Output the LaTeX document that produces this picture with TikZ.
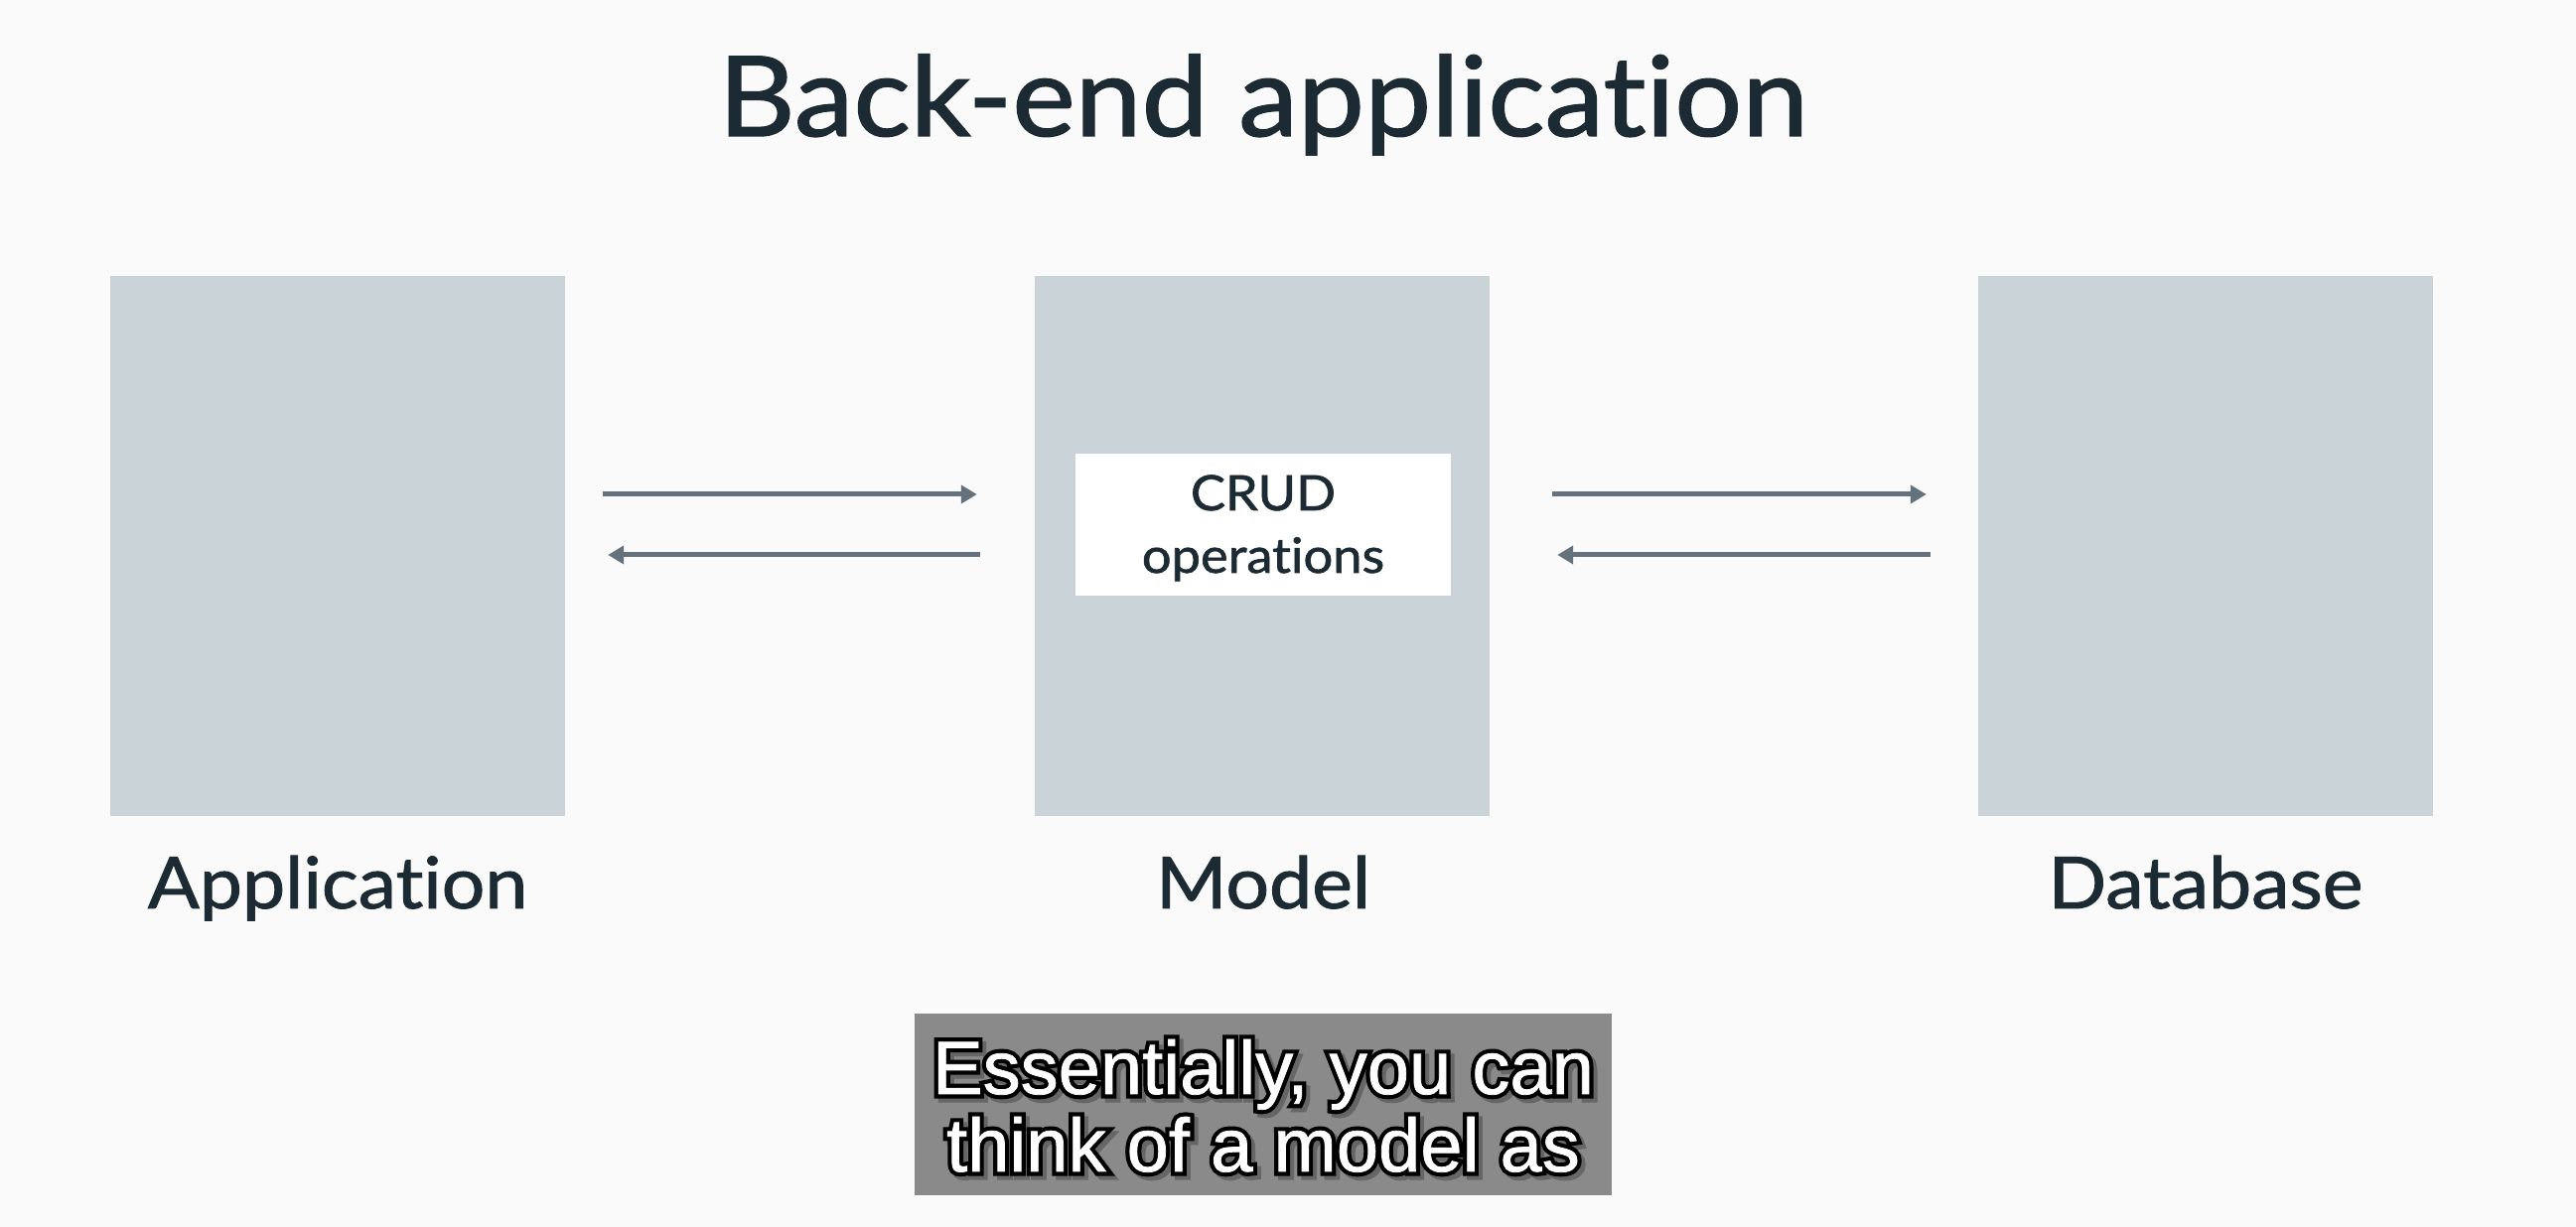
\documentclass[tikz,border=0pt]{standalone}
\usepackage{fontspec}
\setmainfont{Lato}[Ligatures=NoCommon, FakeStretch=1.07, RawFeature={embolden=1.3}]
\newfontfamily\subfont{Liberation Sans}[RawFeature={embolden=1}]
\newfontfamily\subout{Liberation Sans}[RawFeature={embolden=12}]
\usetikzlibrary{arrows.meta,calc}
\definecolor{bg}{RGB}{250,250,250}
\definecolor{boxfill}{RGB}{201,211,216}
\definecolor{arrowc}{RGB}{100,114,126}
\definecolor{ink}{RGB}{28,43,51}
\definecolor{subbg}{RGB}{138,138,138}
\tikzset{
  block/.style={fill=boxfill, draw=none, minimum width=458pt, minimum height=544pt, inner sep=0pt},
  inbox/.style={fill=white, draw=none, minimum width=378pt, minimum height=143pt, inner sep=0pt},
  flow/.style={draw=arrowc, line width=5pt, -{Triangle[length=16pt,width=18pt]}},
  lbl/.style={anchor=base, text=ink, font=\fontsize{72}{80}\selectfont},
  crud/.style={anchor=base, text=ink, font=\fontsize{49}{54}\selectfont},
  ttl/.style={anchor=base, text=ink, font=\fontsize{112}{120}\selectfont},
  subw/.style={anchor=base, text=white, font=\subfont\fontsize{76}{80}\selectfont},
  subk/.style={anchor=base, text=black, font=\subout\fontsize{76}{80}\selectfont},
  subs/.style={anchor=base, text=black!60, font=\subout\fontsize{76}{80}\selectfont},
}
\begin{document}
\begin{tikzpicture}[x=1pt,y=1pt]
\fill[bg] (0,0) rectangle (2594,1236);
\useasboundingbox (0,0) rectangle (2594,1236);
% title
\node[ttl] (title) at (1272,1099) {Back-end application};
% blocks
\node[block] (app) at (340,686) {};
\node[block] (model) at (1271,686) {};
\node[block] (db) at (2221,686) {};
\node[inbox] (crudbox) at (1272,707.5) {};
\node[crud] (crud1) at (1272,722) {CRUD};
\node[crud] (crud2) at (1272,659) {operations};
% labels
\node[lbl] (applbl) at (340,321) {Application};
\node[lbl] (modellbl) at (1272,321) {Model};
\node[lbl] (dblbl) at (2221,321) {Database};
% connector endpoints
\coordinate (a1) at ($(app.east)+(38,52)$);
\coordinate (m1) at ($(model.west)+(-58,52)$);
\coordinate (m2) at ($(model.west)+(-55,-9)$);
\coordinate (a2) at ($(app.east)+(43,-9)$);
\coordinate (m3) at ($(model.east)+(63,52)$);
\coordinate (d1) at ($(db.west)+(-52,52)$);
\coordinate (d2) at ($(db.west)+(-48,-9)$);
\coordinate (m4) at ($(model.east)+(68,-9)$);
\draw[flow] (a1) -- (m1);
\draw[flow] (m2) -- (a2);
\draw[flow] (m3) -- (d1);
\draw[flow] (d2) -- (m4);
% subtitle
\node[fill=subbg, minimum width=702pt, minimum height=183pt, inner sep=0pt] (subbox) at (1272,123.5) {};
\node[subs] (s1s) at (1276,130) {Essentially, you can};
\node[subk] (s1k) at (1272,134) {Essentially, you can};
\node[subw] (s1) at (1272,134) {Essentially, you can};
\node[subs] (s2s) at (1276,52) {think of a model as};
\node[subk] (s2k) at (1272,56) {think of a model as};
\node[subw] (s2) at (1272,56) {think of a model as};
\end{tikzpicture}
\end{document}
